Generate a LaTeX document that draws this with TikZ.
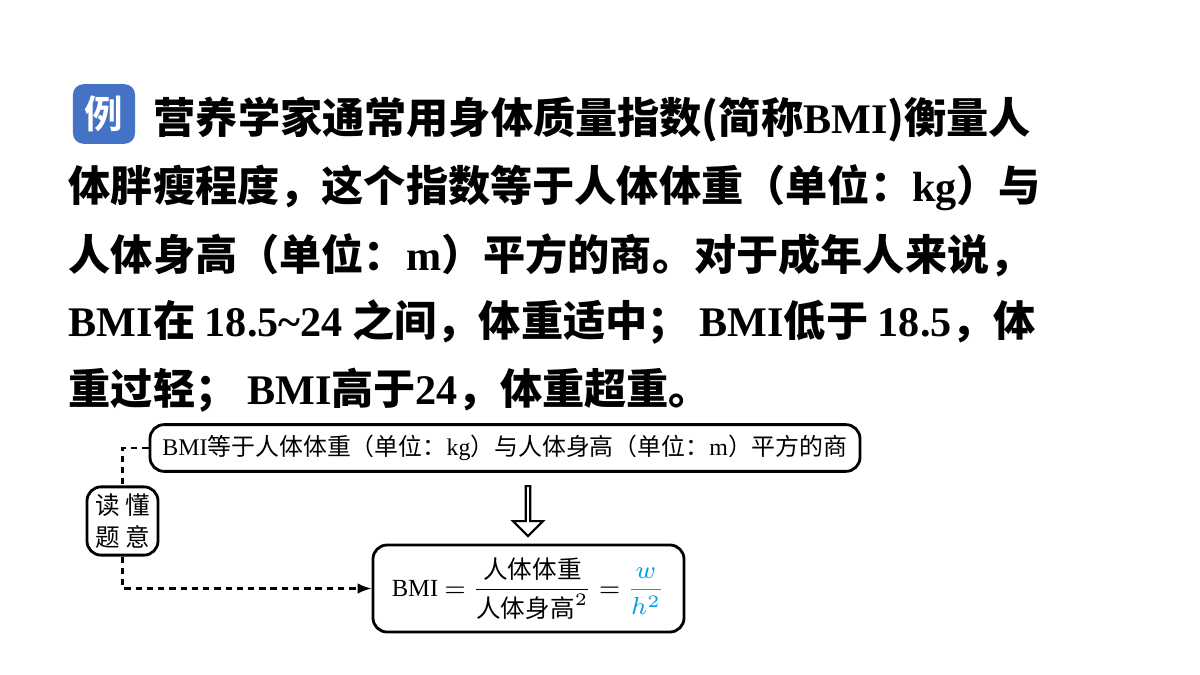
\documentclass[tikz,border=0pt]{standalone}
\usepackage{amsmath}
\usepackage{fontspec}
\setmainfont{Liberation Serif}
\newfontfamily\cjk{Noto Sans CJK SC}
\newfontfamily\cjkb{Noto Sans CJK SC Bold}
\usetikzlibrary{positioning,shapes.arrows,arrows.meta}
\definecolor{badgeblue}{RGB}{68,114,196}
\definecolor{formblue}{RGB}{0,160,220}
\tikzset{
    textline/.style={anchor=west, inner sep=0pt, font=\fontsize{12pt}{14pt}\selectfont\bfseries},
    infobox/.style={draw, thick, rounded corners=4pt, inner sep=3pt},
    guide/.style={dash pattern=on 1.8pt off 1.4pt, semithick}
}
\begin{document}
\begin{tikzpicture}
    \useasboundingbox (0,0) rectangle (12,-6.75);
    % badge
    \node[fill=badgeblue, rounded corners=3pt, minimum width=0.58cm, minimum height=0.52cm,
          text=white, font=\cjkb\fontsize{11pt}{12pt}\selectfont] (badge) at (1.04,-1.14) {例};
    % problem text
    \node[textline] (l1) at (1.53,-1.20) {\cjkb 营养学家通常用身体质量指数(简称{\rmfamily BMI})衡量人};
    \node[textline] (l2) at (0.68,-1.88) {\cjkb 体胖瘦程度，这个指数等于人体体重（单位：{\rmfamily kg}）与};
    \node[textline] (l3) at (0.68,-2.55) {\cjkb 人体身高（单位：{\rmfamily m}）平方的商。对于成年人来说，};
    \node[textline] (l4) at (0.68,-3.22) {{\rmfamily BMI}\cjkb 在 {\rmfamily 18.5\textasciitilde24} 之间，体重适中； {\rmfamily BMI}低于 {\rmfamily 18.5}，体};
    \node[textline] (l5) at (0.68,-3.90) {\cjkb 重过轻； {\rmfamily BMI}高于{\rmfamily 24}，体重超重。};

    % diagram
    \node[infobox, minimum width=7.10cm, minimum height=0.45cm, font=\fontsize{6.8pt}{8pt}\selectfont]
        (def) at (5.05,-4.48) {BMI{\cjk 等于人体体重（单位：}kg{\cjk ）与人体身高（单位：}m{\cjk ）平方的商}};
    \node[infobox, minimum width=0.71cm, minimum height=0.68cm, align=center, inner sep=2pt,
          font=\cjk\fontsize{7pt}{9pt}\selectfont] (read) at (1.225,-5.21) {读 懂\\题 意};
    \node[infobox, minimum width=3.11cm, minimum height=0.87cm, font=\fontsize{7pt}{8pt}\selectfont]
        (formula) at (5.285,-5.885)
        {BMI $=$ $\dfrac{\text{\cjk 人体体重}}{\text{\cjk 人体身高}^2}$ $=$ \textcolor{formblue}{$\dfrac{w}{h^2}$}};
    \node[single arrow, draw, semithick, rotate=-90, minimum height=0.50cm, minimum width=0.30cm,
          single arrow head extend=0.06cm, inner sep=0pt] (hollow) at (5.28,-5.10) {};

    \coordinate (corner) at (1.225,-4.48);
    \draw[guide] (def.west) -- (corner) -- (read.north);
    \draw[guide, -{Latex[length=4pt]}] (read.south) |- (formula.west);
\end{tikzpicture}
\end{document}
